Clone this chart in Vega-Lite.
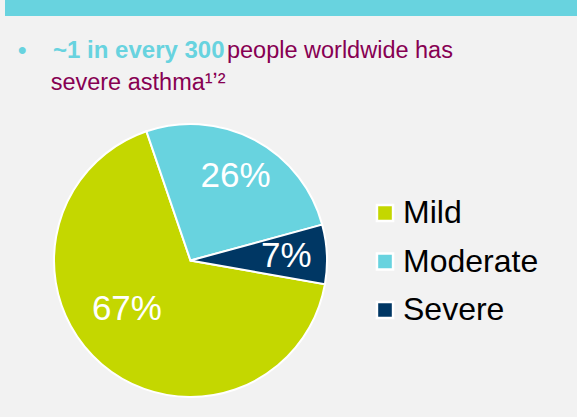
{
  "$schema": "https://vega.github.io/schema/vega-lite/v6.json",
  "background": "#f2f2f2",
  "padding": {"left": 5, "top": 0, "right": 0, "bottom": 0},
  "spacing": 22,
  "config": {"view": {"stroke": null}},
  "vconcat": [
    {
      "width": 572,
      "height": 16,
      "view": {"fill": "#68d3df", "stroke": null},
      "data": {"values": []},
      "mark": "rect"
    },
    {
      "width": 371,
      "height": 313,
      "title": {
        "text": "\u2022\u00a0\u00a0\u00a0\u00a0~1 in every 300",
        "subtitle": ["\u200b\u00a0\u00a0\u00a0\u00a0\u00a0\u00a0\u00a0\u00a0\u00a0\u00a0\u00a0\u00a0\u00a0\u00a0\u00a0\u00a0\u00a0\u00a0\u00a0\u00a0\u00a0\u00a0\u00a0\u00a0\u00a0\u00a0\u00a0\u00a0\u00a0\u00a0\u00a0\u00a0people worldwide has", "\u200b\u00a0\u00a0\u00a0\u00a0\u00a0severe asthma\u00b9\u02bc\u00b2"],
        "anchor": "start",
        "frame": "group",
        "font": "Arial",
        "fontSize": 24,
        "fontWeight": 700,
        "color": "#68d3df",
        "subtitleFont": "Liberation Sans",
        "subtitleFontSize": 23.5,
        "subtitleColor": "#870052",
        "subtitleLineHeight": 32,
        "subtitlePadding": -24,
        "offset": 10,
        "dx": 13
      },
      "data": {
        "values": [
          {"severity": "Mild", "percent": 67, "label": "67%"},
          {"severity": "Moderate", "percent": 26, "label": "26%"},
          {"severity": "Severe", "percent": 7, "label": "7%"}
        ]
      },
      "encoding": {
        "theta": {"field": "percent", "type": "quantitative", "stack": true, "scale": {"range": [1.745, 8.028]}},
        "order": {"field": "severity", "type": "ordinal", "sort": "ascending"}
      },
      "layer": [
        {
          "mark": {"type": "arc", "outerRadius": 136.5, "stroke": "white", "strokeWidth": 2},
          "encoding": {
            "color": {
              "field": "severity",
              "type": "nominal",
              "scale": {"domain": ["Mild", "Moderate", "Severe"], "range": ["#c4d700", "#68d3df", "#003764"]},
              "legend": {
                "orient": "none",
                "legendX": 364,
                "legendY": 197,
                "title": null,
                "symbolType": "square",
                "symbolSize": 260,
                "symbolStrokeColor": "white",
                "symbolStrokeWidth": 2.5,
                "symbolOpacity": 1,
                "labelFont": "Liberation Sans",
                "labelFontSize": 32,
                "labelColor": "black",
                "labelOffset": 2,
                "rowPadding": 16.5,
                "labelLimit": 300
              }
            }
          }
        },
        {
          "mark": {"type": "text", "radius": 96, "thetaOffset": 0.0, "font": "Liberation Sans", "fontSize": 35, "color": "white"},
          "encoding": {
            "detail": {"field": "severity", "type": "nominal"},
            "text": {"condition": {"test": "datum.severity === 'Mild'", "value": ""}, "field": "label", "type": "nominal"}
          }
        },
        {
          "mark": {"type": "text", "radius": 80, "thetaOffset": 0.21, "font": "Liberation Sans", "fontSize": 35, "color": "white"},
          "encoding": {
            "detail": {"field": "severity", "type": "nominal"},
            "text": {"condition": {"test": "datum.severity !== 'Mild'", "value": ""}, "field": "label", "type": "nominal"}
          }
        }
      ]
    }
  ]
}
